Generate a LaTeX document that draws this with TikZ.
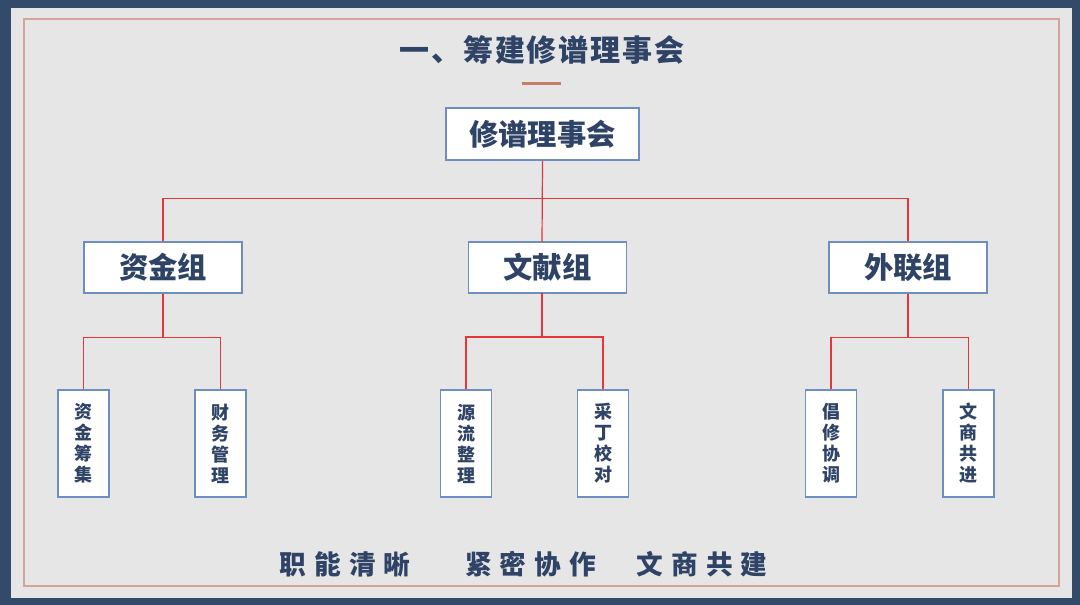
\documentclass[tikz,border=0pt]{standalone}
\usepackage{fontspec}
\setmainfont{Noto Sans CJK SC}
\definecolor{framenavy}{HTML}{344A6A}
\definecolor{pagegrey}{HTML}{E6E6E6}
\definecolor{pinkline}{HTML}{D6A398}
\definecolor{barbrown}{HTML}{C47E6A}
\definecolor{inktext}{HTML}{2E4366}
\definecolor{boxblue}{HTML}{6D8FBF}
\definecolor{linkred}{HTML}{E5363B}

\begin{document}
\begin{tikzpicture}[x=0.75pt, y=-0.75pt,
			box/.style   = {draw=boxblue, line width=1.1pt, fill=white, inner sep=0pt, text=inktext, font=\bfseries\fontsize{22}{26}\selectfont},
			head/.style  = {box, minimum width=144.75pt, minimum height=39pt},
			grp/.style   = {box, minimum width=118.5pt, minimum height=38.25pt},
			leaf/.style  = {box, minimum width=38.25pt, minimum height=80.25pt, align=center, font=\bfseries\fontsize{13.5}{15.75}\selectfont},
			slogan/.style= {text=inktext, font=\bfseries\fontsize{20}{24}\selectfont\addfontfeature{LetterSpace=30}},
			link/.style  = {linkred, line width=0.9pt},]

			%% FRAME AND BACKGROUND
			\fill[framenavy] (0,0) rectangle (1080,605);
			\fill[pagegrey] (11,8) rectangle (1072,598);
			\draw[pinkline, line width=1.2pt] (24,19) rectangle (1059,586);

			%% TITLE
			\node (title) at (542,50) [text=inktext, font=\bfseries\fontsize{22.5}{27}\selectfont\addfontfeature{LetterSpace=6}] {一、筹建修谱理事会};
			\draw[barbrown, line width=2.6pt] (522,83.5) -- (561,83.5);

			%% TOP AND GROUPS
			\node (hui) at (542.5,134) [head] {修谱理事会};
			\node (zj) at (163,267.5) [grp] {资金组};
			\node (wx) at (547.5,267.5) [grp] {文献组};
			\node (wl) at (908,267.5) [grp] {外联组};
			\coordinate (wxtop) at (542,242);
			\coordinate (wxbot) at (542,293);

			% leaves
			\node (zj1) at (83.5,443.5) [leaf] {资\\金\\筹\\集};
			\node (zj2) at (220.5,443.5) [leaf] {财\\务\\管\\理};
			\node (wx1) at (466,443.5) [leaf] {源\\流\\整\\理};
			\node (wx2) at (603,443.5) [leaf] {采\\丁\\校\\对};
			\node (wl1) at (831,443.5) [leaf] {倡\\修\\协\\调};
			\node (wl2) at (968.5,443.5) [leaf] {文\\商\\共\\进};

			%% CONNECTORS
			\draw[link] (hui.south) -- ++(0,38) -| (zj.north);
			\draw[link] (hui.south) -- ++(0,38) -| (wl.north);
			\draw[link] (hui.south) -- (wxtop);
			\draw[link] (zj.south) -- ++(0,44) -| (zj1.north);
			\draw[link] (zj.south) -- ++(0,44) -| (zj2.north);
			\draw[link] (wxbot) -- ++(0,44) -| (wx1.north);
			\draw[link] (wxbot) -- ++(0,44) -| (wx2.north);
			\draw[link] (wl.south) -- ++(0,44) -| (wl1.north);
			\draw[link] (wl.south) -- ++(0,44) -| (wl2.north);

			%% SLOGAN
			\node (s1) at (345,564) [slogan] {职能清晰};
			\node (s2) at (530.5,564) [slogan] {紧密协作};
			\node (s3) at (702,564) [slogan] {文商共建};
\end{tikzpicture}
\end{document}
